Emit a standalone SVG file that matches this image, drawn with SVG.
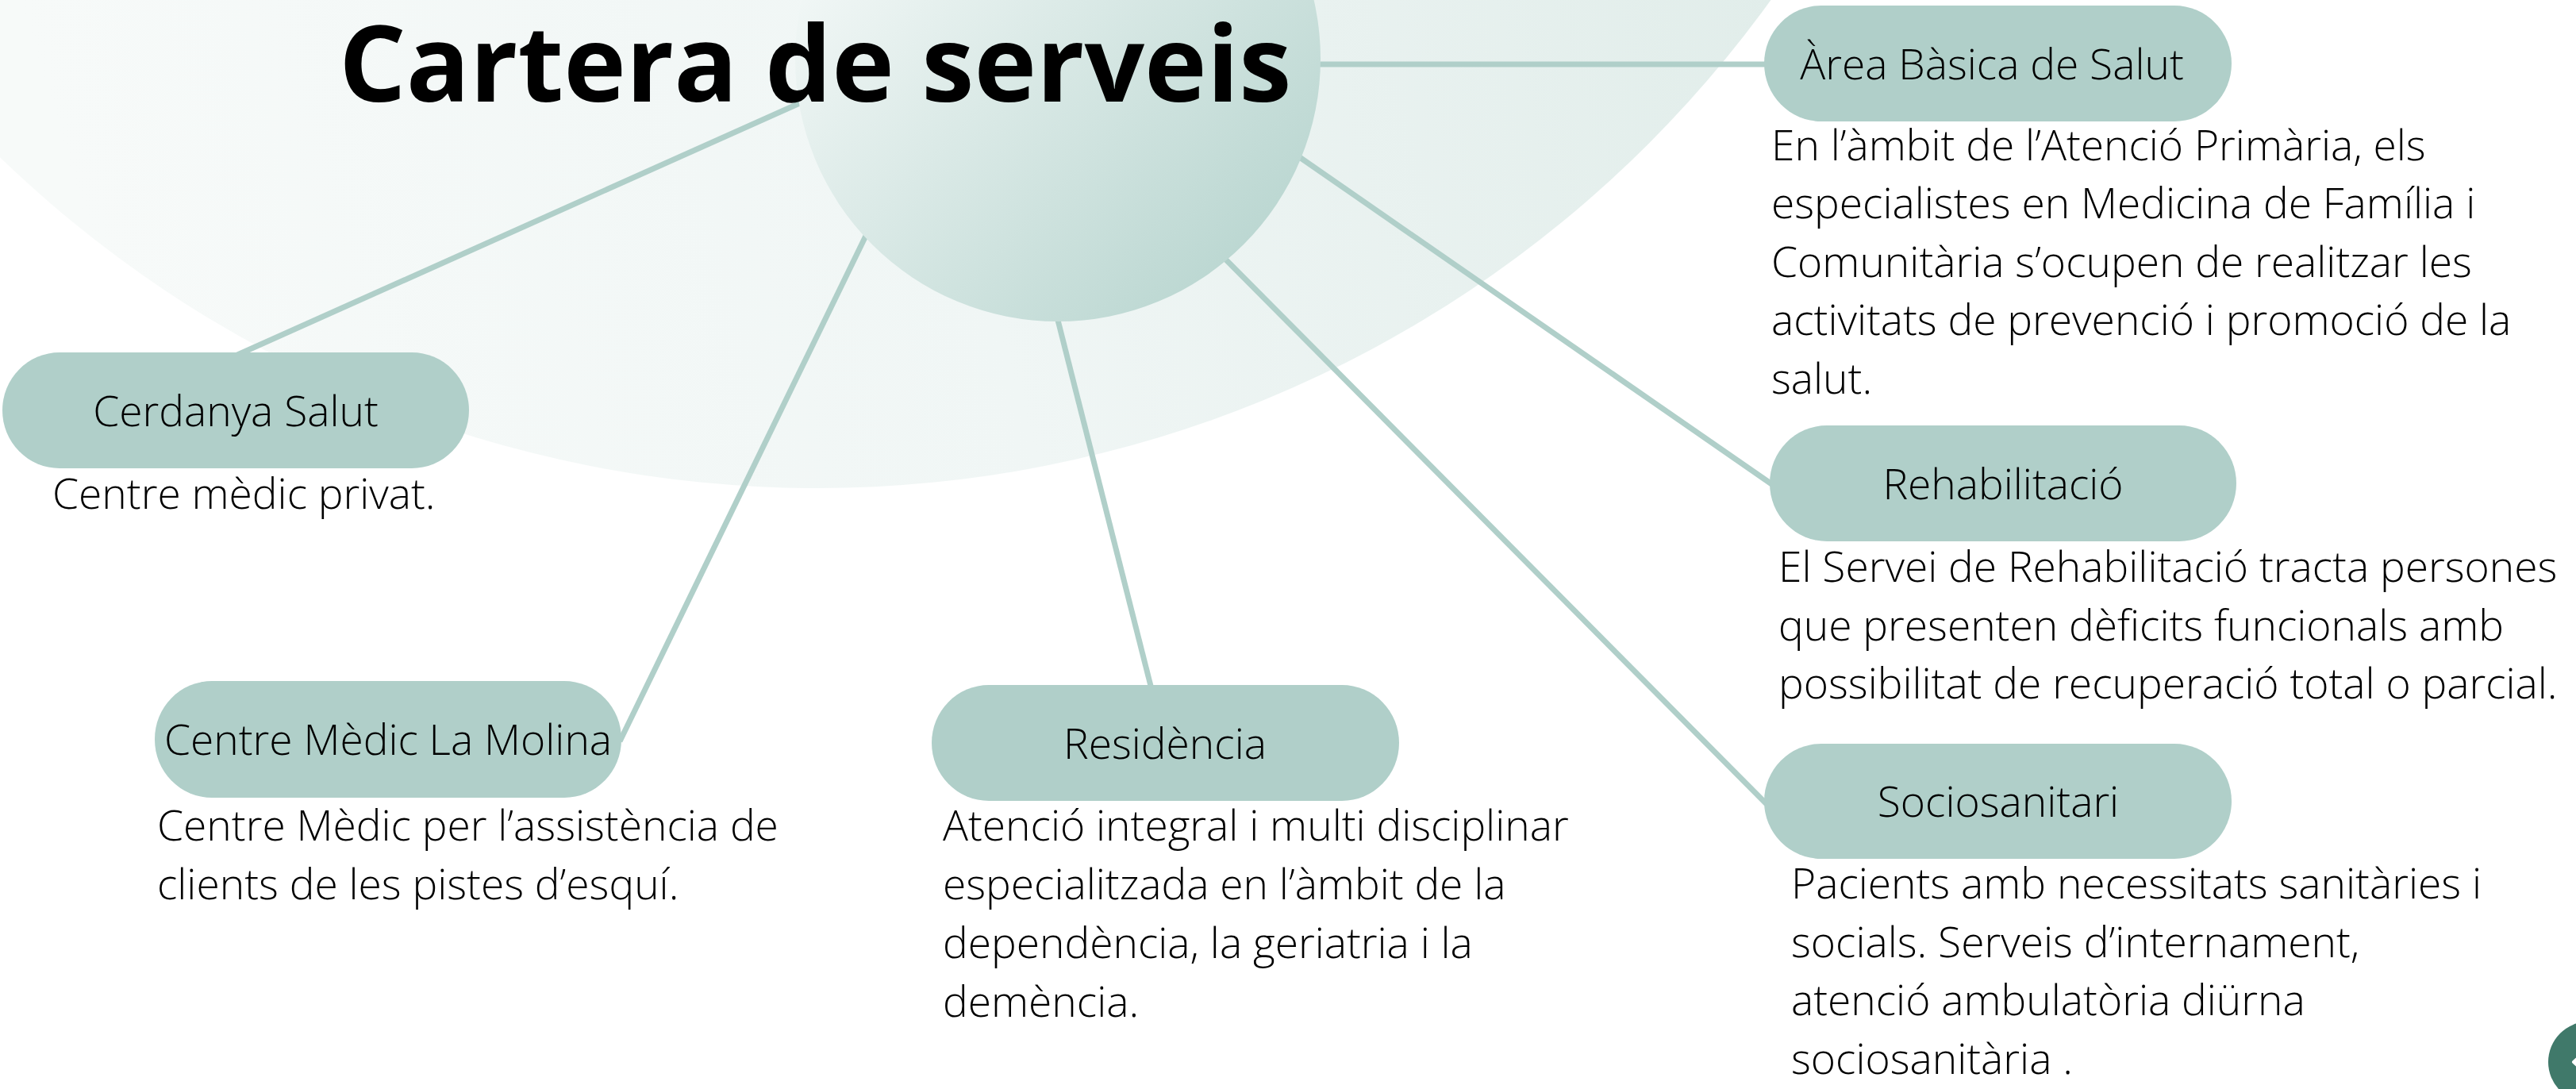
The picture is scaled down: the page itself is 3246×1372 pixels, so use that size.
<svg xmlns="http://www.w3.org/2000/svg" width="3246" height="1372" viewBox="0 0 3246 1372">
  <defs>
    <linearGradient id="bigGrad" gradientUnits="userSpaceOnUse" x1="200" y1="600" x2="2250" y2="0">
      <stop offset="0" stop-color="#f7faf9"/>
      <stop offset="0.5" stop-color="#f0f6f5"/>
      <stop offset="1" stop-color="#e1edea"/>
    </linearGradient>
    <linearGradient id="hubGrad" gradientUnits="userSpaceOnUse" x1="1080" y1="-120" x2="1600" y2="380">
      <stop offset="0" stop-color="#f3f8f7"/>
      <stop offset="1" stop-color="#b6d4ce"/>
    </linearGradient>
    <style>
      .node { fill: #b0cfc9; }
      .conn { stroke: #b0cfc9; stroke-width: 7; fill: none; stroke-linecap: butt; }
      .label { font-family: "Open Sans", "Liberation Sans", sans-serif; font-weight: 300; font-size: 53.3px; fill: #000000; text-anchor: middle; }
      .body { font-family: "Open Sans", "Liberation Sans", sans-serif; font-weight: 300; font-size: 53.3px; fill: #000000; }
      .title { font-family: "Open Sans", "Liberation Sans", sans-serif; font-weight: 700; font-size: 133px; fill: #000000; }
    </style>
  </defs>

  <rect x="0" y="0" width="3246" height="1372" fill="#ffffff"/>

  <!-- background disc -->
  <circle cx="1030" cy="-866" r="1481" fill="url(#bigGrad)"/>

  <!-- connectors -->
  <g id="connectors">
    <line class="conn" x1="1600" y1="81" x2="2240" y2="81"/>
    <line class="conn" x1="1050" y1="111" x2="297" y2="448"/>
    <line class="conn" x1="1110" y1="258" x2="781" y2="934"/>
    <line class="conn" x1="1322" y1="360" x2="1451" y2="868"/>
    <line class="conn" x1="1500" y1="282" x2="2226" y2="1013"/>
    <line class="conn" x1="1600" y1="172" x2="2234" y2="611"/>
  </g>

  <!-- central hub -->
  <g id="hub">
    <circle cx="1333" cy="74" r="331" fill="url(#hubGrad)"/>
    <text class="title" x="427" y="128">Cartera de serveis</text>
  </g>

  <g id="node-area-basica">
    <rect class="node" x="2223" y="7" width="589" height="146" rx="72" ry="73"/>
    <text class="label" x="2510" y="100">Àrea Bàsica de Salut</text>
    <text class="body" x="2232" y="202">En l’àmbit de l’Atenció Primària, els</text>
    <text class="body" x="2232" y="275">especialistes en Medicina de Família i</text>
    <text class="body" x="2232" y="349">Comunitària s’ocupen de realitzar les</text>
    <text class="body" x="2232" y="422">activitats de prevenció i promoció de la</text>
    <text class="body" x="2232" y="496">salut.</text>
  </g>

  <g id="node-cerdanya">
    <rect class="node" x="3" y="444" width="588" height="146" rx="72" ry="73"/>
    <text class="label" x="297" y="537">Cerdanya Salut</text>
    <text class="body" x="66" y="641">Centre mèdic privat.</text>
  </g>

  <g id="node-molina">
    <rect class="node" x="195" y="858" width="588" height="147" rx="72" ry="73"/>
    <text class="label" x="489" y="951">Centre Mèdic La Molina</text>
    <text class="body" x="198" y="1059">Centre Mèdic per l’assistència de</text>
    <text class="body" x="198" y="1133">clients de les pistes d’esquí.</text>
  </g>

  <g id="node-residencia">
    <rect class="node" x="1174" y="863" width="589" height="146" rx="72" ry="73"/>
    <text class="label" x="1468" y="956">Residència</text>
    <text class="body" x="1188" y="1059">Atenció integral i multi disciplinar</text>
    <text class="body" x="1188" y="1133">especialitzada en l’àmbit de la</text>
    <text class="body" x="1188" y="1207">dependència, la geriatria i la</text>
    <text class="body" x="1188" y="1281">demència.</text>
  </g>

  <g id="node-rehabilitacio">
    <rect class="node" x="2230" y="536" width="588" height="146" rx="72" ry="73"/>
    <text class="label" x="2524" y="629">Rehabilitació</text>
    <text class="body" x="2241" y="733">El Servei de Rehabilitació tracta persones</text>
    <text class="body" x="2241" y="807">que presenten dèficits funcionals amb</text>
    <text class="body" x="2241" y="880">possibilitat de recuperació total o parcial.</text>
  </g>

  <g id="node-sociosanitari">
    <rect class="node" x="2223" y="937" width="589" height="145" rx="72" ry="73"/>
    <text class="label" x="2518" y="1029">Sociosanitari</text>
    <text class="body" x="2257" y="1132">Pacients amb necessitats sanitàries i</text>
    <text class="body" x="2257" y="1206">socials. Serveis d’internament,</text>
    <text class="body" x="2257" y="1279">atenció ambulatòria diürna</text>
    <text class="body" x="2257" y="1353">sociosanitària .</text>
  </g>

  <!-- corner navigation button -->
  <g id="nav-button">
    <circle cx="3262" cy="1338" r="51" fill="#40796a"/>
    <polyline points="3256,1326 3243,1338 3256,1350" fill="none" stroke="#ffffff" stroke-width="4" stroke-linecap="round" stroke-linejoin="round"/>
  </g>
</svg>
